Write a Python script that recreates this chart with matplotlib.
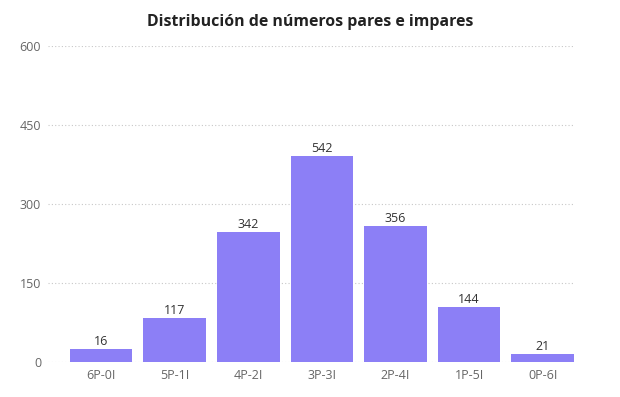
import matplotlib
matplotlib.use('Agg')
import matplotlib.pyplot as plt

# combinaciones pares-impares y sus conteos (etiquetas sobre las barras)
categories = ['6P-0I', '5P-1I', '4P-2I', '3P-3I', '2P-4I', '1P-5I', '0P-6I']
counts = [16, 117, 342, 542, 356, 144, 21]
# alturas de barra tal como aparecen dibujadas en el grafico original
bar_heights = [24, 83, 247, 391, 258, 104, 16]
y_ticks = [0, 150, 300, 450, 600]

bar_color = '#8C7FF6'

plt.rcParams['font.family'] = ['Open Sans', 'DejaVu Sans']

fig = plt.figure(figsize=(6.2, 3.97), dpi=100)
ax = fig.add_axes([0.0774, 0.0882, 0.8484, 0.7959])

x = range(len(categories))
bars = ax.bar(x, bar_heights, width=0.85, color=bar_color, zorder=2)

for b, c in zip(bars, counts):
    ax.text(b.get_x() + b.get_width() / 2, b.get_height() + 2, str(c),
            ha='center', va='bottom', fontsize=9, color='#333333')

ax.set_xlim(-0.72, 6.425)
ax.set_ylim(0, 600)
ax.set_yticks(y_ticks)
ax.set_xticks(list(x))
ax.set_xticklabels(categories)
ax.grid(axis='y', linestyle=(0, (1, 2)), color='#c8c8c8', linewidth=0.8, zorder=0)

for s in ax.spines.values():
    s.set_visible(False)
ax.tick_params(axis='both', length=0, labelsize=9, labelcolor='#666666')
ax.tick_params(axis='y', pad=5)
ax.tick_params(axis='x', pad=5)

fig.suptitle('Distribución de números pares e impares', x=0.5, y=0.965,
             fontsize=11.4, fontweight='bold', color='#222222')

fig.savefig('out.png', dpi=100)
plt.close()
